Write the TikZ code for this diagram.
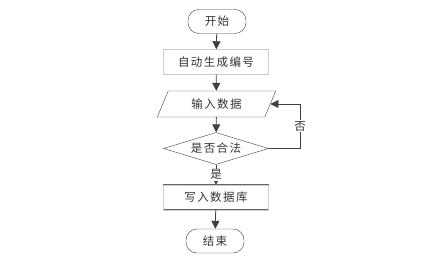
\documentclass[tikz,border=0pt]{standalone}
\usepackage{fontspec}
\newfontfamily\cjk[LetterSpace=12]{Noto Sans CJK SC}
\usetikzlibrary{shapes.geometric,arrows.meta}

\begin{document}
\begin{tikzpicture}[
                x=1pt, y=-1pt,
                base/.style={
                    text=black!80,
                    font=\cjk\fontsize{11.5}{13}\selectfont,
                    align=center,
                    inner sep=0pt
                },
                terminal/.style={
                    base,
                    draw=black!75,
                    rounded corners=11pt,
                    minimum width=58pt,
                    minimum height=24pt
                },
                procbox/.style={
                    base,
                    draw=black!60,
                    double=black!20,
                    double distance=0.6pt,
                    minimum width=105pt,
                    minimum height=25pt
                },
                iobox/.style={
                    base,
                    draw=black!75,
                    trapezium,
                    trapezium left angle=62,
                    trapezium right angle=118,
                    trapezium stretches=true,
                    minimum width=119pt,
                    minimum height=26pt
                },
                judgebox/.style={
                    base,
                    draw=black!75,
                    diamond,
                    aspect=3.3,
                    minimum width=105pt,
                    minimum height=32pt
                },
                arrow/.style={
                    -{Triangle[length=8pt,width=8pt]},
                    draw=black!75,
                    thick
                }
            ]
                \useasboundingbox (0,0) rectangle (443,270);

                \node[terminal] (start) at (217,21.5) {开始};
                \node[procbox] (gen) at (216,62) {自动生成编号};
                \node[iobox] (input) at (216.5,104) {输入数据};
                \node[judgebox] (judge) at (216,148.5) {是否合法};
                \node[procbox] (write) at (216,197.5) {写入数据库};
                \node[terminal] (stop) at (215,241) {结束};
                \coordinate (loop) at (300,148.5);

                \draw[arrow] (start) -- (gen);
                \draw[arrow] (gen) -- (input);
                \draw[arrow] (input) -- (judge);
                \draw[arrow] (judge) -- (write) node[midway, base, fill=white, inner sep=1pt] {是};
                \draw[arrow] (write) -- (stop);
                \draw[arrow] (judge.east) -- (loop) |- (input.east) node[pos=0.25, base, fill=white, inner sep=1pt] {否};
        \end{tikzpicture}
\end{document}
